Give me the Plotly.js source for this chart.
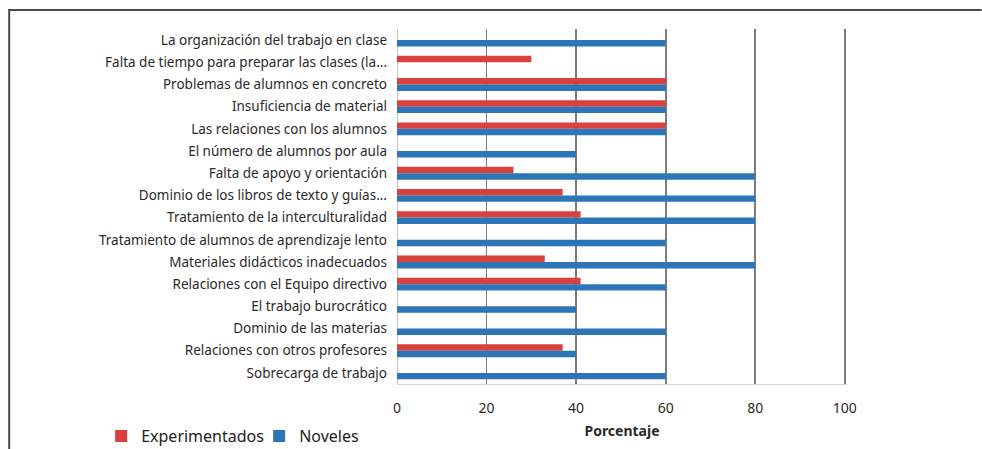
<!DOCTYPE html>
<html>
<head>
<meta charset="utf-8">
<script src="https://cdn.plot.ly/plotly-3.0.1.min.js"></script>
<style>
html,body{margin:0;padding:0;background:#fff;}
#chart{width:982px;height:449px;}
</style>
</head>
<body>
<div id="chart"></div>
<script>
const categories = [
  "La organización del trabajo en clase",
  "Falta de tiempo para preparar las clases (la...",
  "Problemas de alumnos en concreto",
  "Insuficiencia de material",
  "Las relaciones con los alumnos",
  "El número de alumnos por aula",
  "Falta de apoyo y orientación",
  "Dominio de los libros de texto y guías...",
  "Tratamiento de la interculturalidad",
  "Tratamiento de alumnos de aprendizaje lento",
  "Materiales didácticos inadecuados",
  "Relaciones con el Equipo directivo",
  "El trabajo burocrático",
  "Dominio de las materias",
  "Relaciones con otros profesores",
  "Sobrecarga de trabajo"
];
const experimentados = [0, 30, 60, 60, 60, 0, 26, 37, 41, 0, 33, 41, 0, 0, 37, 0];
const noveles =        [60, 0, 60, 60, 60, 40, 80, 80, 80, 60, 80, 60, 40, 60, 40, 60];
const xTicks = [0, 20, 40, 60, 80, 100];
const seriesNames = ["Experimentados", "Noveles"];
const axisTitle = "Porcentaje";

const W = 982, H = 449;
const xMax = 100.5;
const m = {l: 397, r: 982 - 397 - 448 * xMax / 100, t: 29, b: 65, autoexpand: false};
const pw = W - m.l - m.r, ph = H - m.t - m.b;
const px = v => (v - m.l) / pw;
const py = v => (H - m.b - v) / ph;

const traces = [
  {type: "bar", orientation: "h", name: seriesNames[0], y: categories, x: experimentados,
   marker: {color: "#d8413d"}},
  {type: "bar", orientation: "h", name: seriesNames[1], y: categories, x: noveles,
   marker: {color: "#2c75b7"}}
];

const layout = {
  width: W, height: H,
  margin: m,
  paper_bgcolor: "#fff", plot_bgcolor: "#fff",
  barmode: "group", bargap: 0.42, bargroupgap: 0,
  font: {family: "Noto Sans, sans-serif", color: "#2a2a2a"},
  xaxis: {
    range: [0, xMax], tickvals: xTicks, ticktext: xTicks.map(String),
    showgrid: true, gridcolor: "#7d7d7d", gridwidth: 1.8,
    zeroline: true, zerolinecolor: "#c9c9c9", zerolinewidth: 1,
    showline: true, linecolor: "#d6d6d6", linewidth: 1,
    ticks: "", ticklabelstandoff: 11,
    tickfont: {size: 14, color: "#2a2a2a"},
    title: {text: "<b>" + axisTitle + "</b>", font: {size: 14, color: "#2a2a2a"}, standoff: 10},
    automargin: false,
    fixedrange: true
  },
  yaxis: {
    type: "category", autorange: "reversed",
    showgrid: false, zeroline: false,
    showline: false,
    ticks: "", ticklabelstandoff: 9,
    tickfont: {size: 13.5, color: "#2a2a2a"},
    automargin: false,
    fixedrange: true
  },
  legend: {
    orientation: "h", x: px(101), y: py(419), xanchor: "left", yanchor: "top",
    font: {size: 16, color: "#222"}, itemwidth: 30, tracegroupgap: 0,
    entrywidth: 113, entrywidthmode: "pixels",
    bgcolor: "rgba(0,0,0,0)"
  },
  shapes: [
    {type: "line", xref: "paper", yref: "paper", x0: px(8), x1: px(982), y0: py(10), y1: py(10),
     line: {color: "#4a4a4a", width: 2}},
    {type: "line", xref: "paper", yref: "paper", x0: px(9), x1: px(9), y0: py(10), y1: py(449),
     line: {color: "#4a4a4a", width: 2}}
  ]
};

Plotly.newPlot("chart", traces, layout, {displayModeBar: false, staticPlot: true});
</script>
</body>
</html>
